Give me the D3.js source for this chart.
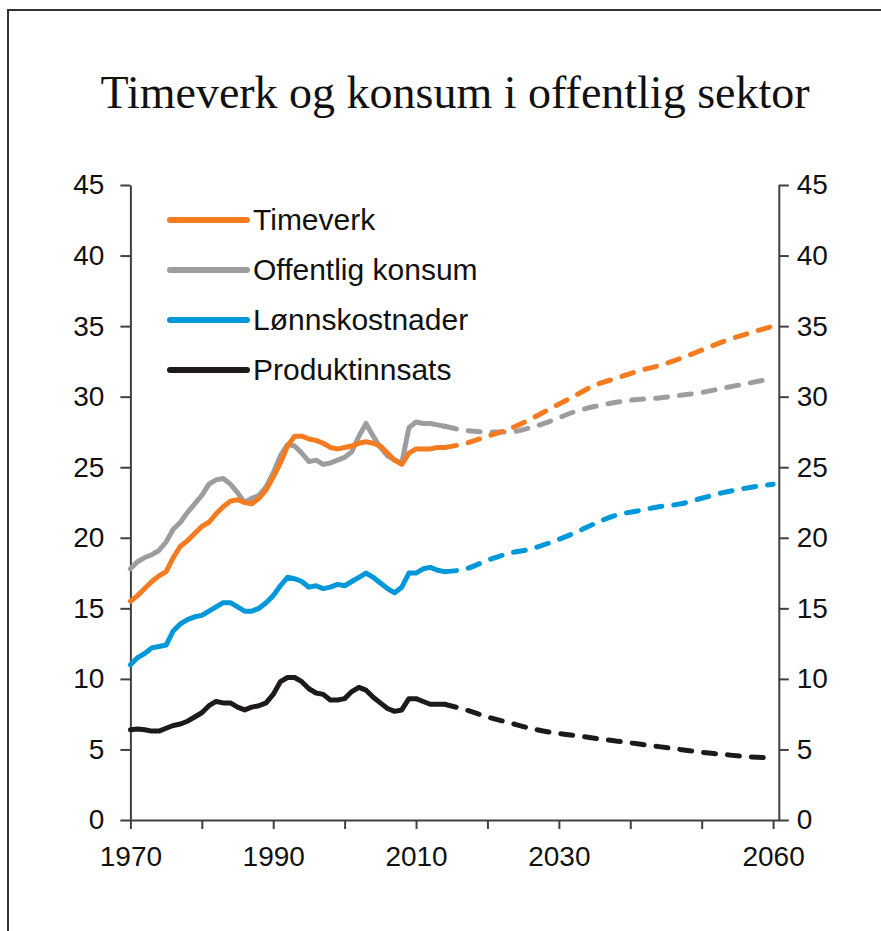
<!DOCTYPE html>
<html>
<head>
<meta charset="utf-8">
<script src="https://cdn.jsdelivr.net/npm/d3@7"></script>
<style>
  body { margin: 0; background: #fff; }
  svg { display: block; }
  .axis text { font-family: "Liberation Sans", Arial, sans-serif; font-size: 28px; fill: #111; }
  .axis path, .axis line { stroke: #404040; stroke-width: 2px; }
</style>
</head>
<body>
<div id="chart"></div>
<script>
// Historical data (solid lines), one value per year
const histYears = d3.range(1970, 2015);
const timeverkHist = [15.5, 15.9, 16.4, 16.9, 17.3, 17.6, 18.6, 19.4, 19.8, 20.3,
    20.8, 21.1, 21.7, 22.2, 22.6, 22.7, 22.5, 22.4, 22.8, 23.4,
    24.3, 25.3, 26.5, 27.2, 27.2, 27.0, 26.9, 26.7, 26.4, 26.3,
    26.4, 26.5, 26.7, 26.8, 26.7, 26.5, 26.0, 25.5, 25.2, 26.0,
    26.3, 26.3, 26.3, 26.4, 26.4];
const konsumHist = [17.8, 18.3, 18.6, 18.8, 19.1, 19.7, 20.6, 21.1, 21.8, 22.4,
    23.0, 23.8, 24.1, 24.2, 23.8, 23.2, 22.5, 22.8, 23.0, 23.6,
    24.6, 25.8, 26.6, 26.5, 26.0, 25.4, 25.5, 25.2, 25.3, 25.5,
    25.7, 26.1, 27.2, 28.1, 27.2, 26.4, 25.8, 25.5, 25.3, 27.8,
    28.2, 28.1, 28.1, 28.0, 27.9];
const lonnHist = [11.0, 11.5, 11.8, 12.2, 12.3, 12.4, 13.4, 13.9, 14.2, 14.4,
    14.5, 14.8, 15.1, 15.4, 15.4, 15.1, 14.8, 14.8, 15.0, 15.4,
    15.9, 16.6, 17.2, 17.1, 16.9, 16.5, 16.6, 16.4, 16.5, 16.7,
    16.6, 16.9, 17.2, 17.5, 17.2, 16.8, 16.4, 16.1, 16.5, 17.5,
    17.5, 17.8, 17.9, 17.7, 17.6];
const produktHist = [6.4, 6.45, 6.4, 6.3, 6.3, 6.5, 6.7, 6.8, 7.0, 7.3,
    7.6, 8.1, 8.4, 8.3, 8.3, 8.0, 7.8, 8.0, 8.1, 8.3,
    8.9, 9.8, 10.1, 10.1, 9.8, 9.3, 9.0, 8.9, 8.5, 8.5,
    8.6, 9.1, 9.4, 9.2, 8.7, 8.3, 7.9, 7.7, 7.8, 8.6,
    8.6, 8.4, 8.2, 8.2, 8.2];

// Projections (dashed lines)
const projYears = [2014, 2017, 2020, 2023, 2026, 2029, 2032, 2035, 2038, 2041, 2044, 2047, 2050, 2053, 2056, 2060];
const timeverkProj = [26.4, 26.7, 27.2, 27.7, 28.4, 29.2, 30.0, 30.8, 31.3, 31.8, 32.2, 32.7, 33.3, 33.9, 34.4, 35.0];
const konsumProj = [27.9, 27.6, 27.5, 27.5, 27.8, 28.3, 28.9, 29.3, 29.6, 29.8, 29.9, 30.1, 30.3, 30.6, 30.9, 31.3];
const lonnProj = [17.6, 17.8, 18.4, 18.9, 19.2, 19.7, 20.3, 21.0, 21.6, 21.9, 22.2, 22.4, 22.8, 23.2, 23.5, 23.8];
const produktProj = [8.2, 7.8, 7.3, 6.9, 6.5, 6.2, 6.0, 5.8, 5.6, 5.4, 5.2, 5.0, 4.8, 4.65, 4.5, 4.4];

const seriesNames = ["Timeverk", "Offentlig konsum", "Lønnskostnader", "Produktinnsats"];
const seriesColors = ["#f47b20", "#9d9d9f", "#0098d8", "#1e1a1a"];

const yTicks = [0, 5, 10, 15, 20, 25, 30, 35, 40, 45];
const xTicks = [1970, 1980, 1990, 2000, 2010, 2020, 2030, 2040, 2050, 2060];
const xLabels = [1970, 1990, 2010, 2030, 2060];

const title = "Timeverk og konsum i offentlig sektor";

// Setup SVG
const W = 881, H = 931;
const svg = d3.select("#chart").append("svg")
    .attr("width", W)
    .attr("height", H);

// Outer frame (runs off the right and bottom edge)
svg.append("rect")
    .attr("x", 8).attr("y", 10)
    .attr("width", 900).attr("height", 940)
    .attr("fill", "none")
    .attr("stroke", "#333")
    .attr("stroke-width", 2);

svg.append("text")
    .attr("x", 455)
    .attr("y", 108)
    .attr("text-anchor", "middle")
    .style("font-family", "'Liberation Serif', 'Times New Roman', serif")
    .style("font-size", "46px")
    .style("fill", "#111")
    .text(title);

// Scales
const x = d3.scaleLinear().domain([1970, 2060.8]).range([130.4, 778.8]);
const y = d3.scaleLinear().domain([0, 45]).range([820, 185]);

// Axes
svg.append("g")
    .attr("class", "axis")
    .attr("transform", `translate(${x.range()[0]},0)`)
    .call(d3.axisLeft(y).tickValues(yTicks).tickSize(10).tickSizeOuter(0).tickPadding(16));

svg.append("g")
    .attr("class", "axis")
    .attr("transform", `translate(${x.range()[1]},0)`)
    .call(d3.axisRight(y).tickValues(yTicks).tickSize(10).tickSizeOuter(0).tickPadding(8));

svg.append("g")
    .attr("class", "axis")
    .attr("transform", `translate(0,${y(0)})`)
    .call(d3.axisBottom(x).tickValues(xTicks).tickSize(9).tickSizeOuter(0).tickPadding(17)
        .tickFormat(d => xLabels.includes(d) ? d : ""));

// Lines
const line = d3.line()
    .x(d => x(d[0]))
    .y(d => y(d[1]));
const smooth = d3.line()
    .x(d => x(d[0]))
    .y(d => y(d[1]))
    .curve(d3.curveMonotoneX);

const hist = [timeverkHist, konsumHist, lonnHist, produktHist];
const proj = [timeverkProj, konsumProj, lonnProj, produktProj];

// draw back to front so orange sits on top like the original
[3, 2, 1, 0].forEach(i => {
    svg.append("path")
        .datum(projYears.map((yr, j) => [yr, proj[i][j]]))
        .attr("d", smooth)
        .attr("fill", "none")
        .attr("stroke", seriesColors[i])
        .attr("stroke-width", 5)
        .attr("stroke-linecap", "round")
        .attr("stroke-dasharray", "12,12");

    svg.append("path")
        .datum(histYears.map((yr, j) => [yr, hist[i][j]]))
        .attr("d", line)
        .attr("fill", "none")
        .attr("stroke", seriesColors[i])
        .attr("stroke-width", 5)
        .attr("stroke-linejoin", "round")
        .attr("stroke-linecap", "round");
});

// Legend
const legend = svg.append("g").attr("transform", "translate(170,220)");
seriesNames.forEach((name, i) => {
    legend.append("line")
        .attr("x1", 0).attr("x2", 77)
        .attr("y1", i * 50).attr("y2", i * 50)
        .attr("stroke", seriesColors[i])
        .attr("stroke-width", 6)
        .attr("stroke-linecap", "round");
    legend.append("text")
        .attr("x", 83)
        .attr("y", i * 50 + 10)
        .style("font-family", "'Liberation Sans', Arial, sans-serif")
        .style("font-size", "30px")
        .style("fill", "#111")
        .text(name);
});
</script>
</body>
</html>
